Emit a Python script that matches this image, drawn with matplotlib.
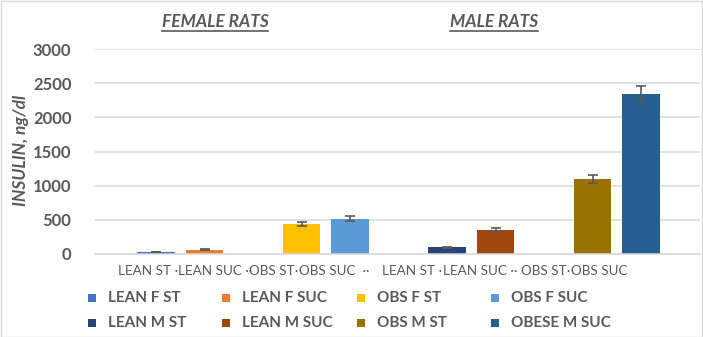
import matplotlib.pyplot as plt
from matplotlib.patches import Rectangle

# insulin levels (ng/dl) per group, with error bars
series = ["LEAN F ST", "LEAN F SUC", "OBS F ST", "OBS F SUC",
          "LEAN M ST", "LEAN M SUC", "OBS M ST", "OBESE M SUC"]
insulin = [30, 60, 440, 515, 100, 350, 1100, 2340]
insulin_err = [5, 6, 27, 35, 8, 25, 60, 115]
colors = ["#4472C4", "#ED7D31", "#FFC000", "#5B9BD5",
          "#264478", "#9E480E", "#997300", "#255E91"]
slots = [0, 1, 3, 4, 6, 7, 9, 10]

tick_labels = ["LEAN ST ·", "LEAN SUC ··", "OBS ST·", "OBS SUC  ··",
               "LEAN ST ·", "LEAN SUC ··", "OBS ST·", "OBS SUC"]
tick_pos = [-0.17, 1.22, 2.43, 3.67, 5.28, 6.68, 8.03, 9.13]
yticks = [0, 500, 1000, 1500, 2000, 2500, 3000]

W, H = 703, 337
TXT = "#595959"
plt.rcParams['font.family'] = ['Lato', 'DejaVu Sans']

fig = plt.figure(figsize=(W / 100, H / 100), dpi=100)
ax = fig.add_axes([95 / W, (H - 254) / H, (700 - 95) / W, (254 - 49) / H])

for i, name in enumerate(series):
    ax.bar(slots[i], insulin[i], width=0.78, color=colors[i], label=name)
    ax.errorbar(slots[i], insulin[i], yerr=insulin_err[i], fmt='none',
                ecolor=TXT, elinewidth=1.2, capsize=3.5, capthick=1.2)

ax.set_xlim(-1.258, 11.216)
ax.set_ylim(0, 3000)
ax.set_yticks(yticks)
ax.set_yticklabels([str(v) for v in yticks], fontsize=12,
                   fontweight='bold', color=TXT)
ax.set_xticks(tick_pos)
ax.set_xticklabels(tick_labels, fontsize=9.7, color=TXT)
ax.tick_params(length=0, pad=8)
ax.tick_params(axis='y', pad=17)
ax.yaxis.grid(True, color="#D9D9D9", linewidth=1.1)
ax.set_axisbelow(True)
for s in ['top', 'right', 'left']:
    ax.spines[s].set_visible(False)
ax.spines['bottom'].set_color("#D9D9D9")
ax.spines['bottom'].set_linewidth(1.1)

fig.text(21 / W, 1 - 150 / H, "INSULIN, ng/dl", rotation=90, ha='center',
         va='center', fontsize=12.5, fontweight='bold', style='italic', color=TXT)

# group headings
for label, xpx in [("FEMALE RATS", 215), ("MALE RATS", 494)]:
    t = fig.text(xpx / W, 1 - 22 / H, label, ha='center', va='center',
                 fontsize=12.5, fontweight='bold', style='italic', color=TXT)
fig.canvas.draw()
for t in fig.texts[1:]:
    bb = t.get_window_extent()
    fig.add_artist(plt.Line2D([bb.x0 / W, bb.x1 / W], [(bb.y0 - 1) / H] * 2,
                              color=TXT, linewidth=1.2))

# legend, 4 columns by 2 rows
for i, name in enumerate(series):
    col, row = i % 4, i // 4
    x0 = 88 + col * 134.3
    yc = 298 + row * 25
    fig.add_artist(Rectangle((x0 / W, (H - yc - 4) / H), 8 / W, 8 / H,
                             facecolor=colors[i], edgecolor='none',
                             transform=fig.transFigure))
    fig.text((x0 + 20) / W, 1 - yc / H, name, ha='left', va='center',
             fontsize=11, fontweight='bold', color=TXT)

fig.add_artist(Rectangle((0.5 / W, 0.5 / H), (W - 1.5) / W, (H - 1.5) / H,
                         fill=False, edgecolor="#D9D9D9", linewidth=1,
                         transform=fig.transFigure))

fig.savefig("out.png", dpi=100)
